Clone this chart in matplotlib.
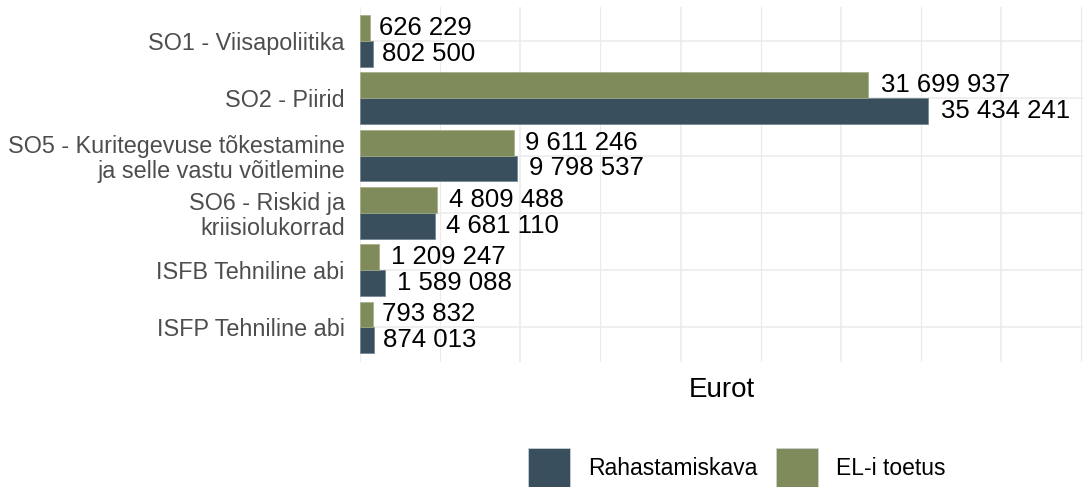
import matplotlib
matplotlib.use("Agg")
import matplotlib.pyplot as plt
from matplotlib.patches import Patch
import matplotlib.transforms as mtransforms
import numpy as np

plt.rcParams['font.family'] = ['Liberation Sans', 'DejaVu Sans']

categories = [
    "SO1 - Viisapoliitika",
    "SO2 - Piirid",
    "SO5 - Kuritegevuse tõkestamine\nja selle vastu võitlemine",
    "SO6 - Riskid ja\nkriisiolukorrad",
    "ISFB Tehniline abi",
    "ISFP Tehniline abi",
]
rahastamiskava = [802500, 35434241, 9798537, 4681110, 1589088, 874013]
eli_toetus = [626229, 31699937, 9611246, 4809488, 1209247, 793832]
series_names = ["Rahastamiskava", "EL-i toetus"]
colors = {"Rahastamiskava": "#3A4F5D", "EL-i toetus": "#808B5B"}

W, H = 1083, 487
fig = plt.figure(figsize=(W / 100, H / 100), dpi=100)
ax = fig.add_axes([360 / W, 1 - 361.7 / H, (W - 360) / W, (361.7 - 6.6) / H])

n = len(categories)
y = np.arange(n)
bh = 0.45
ax.barh(y + bh / 2, rahastamiskava, height=bh, color=colors["Rahastamiskava"],
        edgecolor="#6F8190", lw=0.5, zorder=2)
ax.barh(y - bh / 2, eli_toetus, height=bh, color=colors["EL-i toetus"],
        edgecolor="#A3AC85", lw=0.5, zorder=2)

ax.set_ylim(n - 1 + 0.6, -0.6)
ax.set_xlim(0, 45.1e6)

ax.set_yticks(y)
ax.set_yticklabels(categories, fontsize=16.8, color="#4D4D4D", linespacing=1.1,
                   multialignment="right")
ax.tick_params(axis="y", length=0, pad=11)
ax.set_xticks(np.arange(0, 45.1e6, 10e6))
ax.set_xticks(np.arange(5e6, 45.1e6, 10e6), minor=True)
ax.tick_params(axis="x", which="both", length=0, labelbottom=False)
ax.grid(True, which="major", color="#EBEBEB", lw=1.1, zorder=0)
ax.grid(True, which="minor", axis="x", color="#EBEBEB", lw=0.8, zorder=0)
for s in ax.spines.values():
    s.set_visible(False)

ax.set_xlabel("Eurot", fontsize=20, color="black", labelpad=11)

texts = []
for yy, v in zip(y + bh / 2, rahastamiskava):
    texts.append(ax.text(v, yy, f"{v:,}".replace(",", " "), fontsize=18.5, va="center", ha="left", zorder=3))
for yy, v in zip(y - bh / 2, eli_toetus):
    texts.append(ax.text(v, yy, f"{v:,}".replace(",", " "), fontsize=18.5, va="center", ha="left", zorder=3))
fig.canvas.draw()
r = fig.canvas.get_renderer()
for t in texts:
    w = t.get_window_extent(r).width
    t.set_transform(ax.transData + mtransforms.ScaledTranslation(0.1 * w / 100, 0, fig.dpi_scale_trans))

handles = [Patch(facecolor=colors[s], edgecolor="#C8D0D8", lw=0.6) for s in series_names]
fs = 16.5
em = fs * 100 / 72
fig.legend(handles, series_names, loc="upper left", bbox_to_anchor=(528 / W, 1 - 448 / H),
           ncol=2, frameon=False, fontsize=fs, borderpad=0, borderaxespad=0,
           handlelength=42 / em, handleheight=2.35, handletextpad=18 / em, columnspacing=19 / em)

fig.savefig("out.png", dpi=100)
